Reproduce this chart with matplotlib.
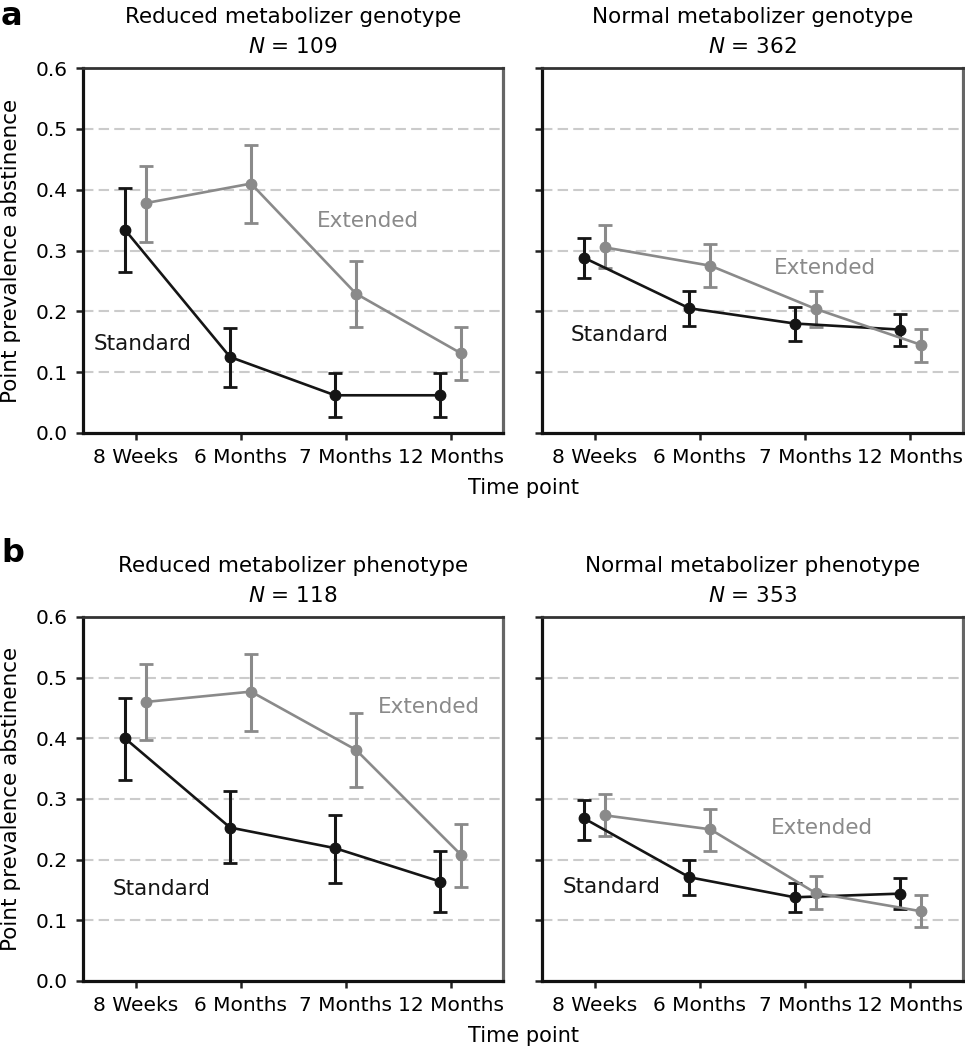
import numpy as np
import matplotlib
matplotlib.use('Agg')
import matplotlib.pyplot as plt

# time points
time_labels = ['8 Weeks', '6 Months', '7 Months', '12 Months']

# panel titles
titles = ['Reduced metabolizer genotype', 'Normal metabolizer genotype',
          'Reduced metabolizer phenotype', 'Normal metabolizer phenotype']
sample_sizes = [109, 362, 118, 353]

# standard treatment: point estimates, lower and upper CI
std_a_red = [0.334, 0.125, 0.062, 0.062]
std_a_red_lo = [0.264, 0.076, 0.026, 0.026]
std_a_red_hi = [0.403, 0.173, 0.098, 0.098]
std_a_nor = [0.288, 0.205, 0.180, 0.170]
std_a_nor_lo = [0.254, 0.176, 0.151, 0.143]
std_a_nor_hi = [0.321, 0.234, 0.207, 0.196]
std_b_red = [0.400, 0.253, 0.219, 0.164]
std_b_red_lo = [0.332, 0.194, 0.161, 0.113]
std_b_red_hi = [0.467, 0.314, 0.274, 0.215]
std_b_nor = [0.268, 0.171, 0.138, 0.144]
std_b_nor_lo = [0.233, 0.142, 0.114, 0.118]
std_b_nor_hi = [0.298, 0.199, 0.162, 0.170]

# extended treatment
ext_a_red = [0.378, 0.410, 0.229, 0.131]
ext_a_red_lo = [0.314, 0.346, 0.175, 0.087]
ext_a_red_hi = [0.439, 0.474, 0.283, 0.175]
ext_a_nor = [0.305, 0.275, 0.204, 0.145]
ext_a_nor_lo = [0.272, 0.240, 0.174, 0.116]
ext_a_nor_hi = [0.342, 0.311, 0.234, 0.171]
ext_b_red = [0.460, 0.477, 0.381, 0.208]
ext_b_red_lo = [0.398, 0.412, 0.319, 0.155]
ext_b_red_hi = [0.522, 0.539, 0.442, 0.258]
ext_b_nor = [0.273, 0.250, 0.145, 0.115]
ext_b_nor_lo = [0.239, 0.215, 0.118, 0.089]
ext_b_nor_hi = [0.308, 0.283, 0.173, 0.141]

# where the series labels sit (data coords)
std_label_pos = [(1.07, 0.146), (1.24, 0.161), (1.25, 0.152), (1.16, 0.155)]
ext_label_pos = [(3.21, 0.349), (3.19, 0.271), (3.79, 0.452), (3.16, 0.252)]

STD_COLOR = '#151515'
EXT_COLOR = '#8a8a8a'

panels = [
    (std_a_red, std_a_red_lo, std_a_red_hi, ext_a_red, ext_a_red_lo, ext_a_red_hi),
    (std_a_nor, std_a_nor_lo, std_a_nor_hi, ext_a_nor, ext_a_nor_lo, ext_a_nor_hi),
    (std_b_red, std_b_red_lo, std_b_red_hi, ext_b_red, ext_b_red_lo, ext_b_red_hi),
    (std_b_nor, std_b_nor_lo, std_b_nor_hi, ext_b_nor, ext_b_nor_lo, ext_b_nor_hi),
]

W, H = 965, 1050
fig = plt.figure(figsize=(W / 100, H / 100), dpi=100)

# axes boxes in pixels: (left, top, right, bottom)
boxes = [(83, 68, 503, 433), (542, 68, 963, 433),
         (83, 617, 503, 981), (542, 617, 963, 981)]


def draw_series(ax, x, y, lo, hi, color):
    y = np.array(y)
    err = [y - np.array(lo), np.array(hi) - y]
    ax.errorbar(x, y, yerr=err, color=color, lw=1.9, marker='o', ms=7.5,
                elinewidth=2.2, capsize=5, capthick=2.0, zorder=3)


x = np.arange(1, 5)
for i, (ax_box, data) in enumerate(zip(boxes, panels)):
    l, t, r, b = ax_box
    ax = fig.add_axes([l / W, 1 - b / H, (r - l) / W, (b - t) / H])
    s, slo, shi, e, elo, ehi = data

    draw_series(ax, x - 0.1, s, slo, shi, STD_COLOR)
    draw_series(ax, x + 0.1, e, elo, ehi, EXT_COLOR)

    ax.set_xlim(0.5, 4.5)
    ax.set_ylim(0, 0.6)
    ax.set_xticks(x)
    ax.set_xticklabels(time_labels, fontsize=14.5)
    ax.set_yticks(np.arange(0, 0.61, 0.1))
    if i % 2 == 0:
        ax.set_yticklabels(['%.1f' % v for v in np.arange(0, 0.61, 0.1)], fontsize=14.5)
    else:
        ax.set_yticklabels([])

    for yv in np.arange(0.1, 0.55, 0.1):
        ax.axhline(yv, color='#cbcbcb', lw=1.5, ls=(0, (5, 2.5)), zorder=1)

    ax.tick_params(axis='both', direction='out', length=5, width=1.8,
                   color='#222222', pad=6)
    ax.spines['left'].set_linewidth(2.3)
    ax.spines['bottom'].set_linewidth(2.3)
    ax.spines['left'].set_color('#111111')
    ax.spines['bottom'].set_color('#111111')
    ax.spines['top'].set_linewidth(2.0)
    ax.spines['top'].set_color('#333333')
    ax.spines['right'].set_linewidth(2.3)
    ax.spines['right'].set_color('#666666')

    sx, sy = std_label_pos[i]
    ex, ey = ext_label_pos[i]
    ax.text(sx, sy, 'Standard', color=STD_COLOR, fontsize=15.5,
            ha='center', va='center')
    ax.text(ex, ey, 'Extended', color=EXT_COLOR, fontsize=15.5,
            ha='center', va='center')

    # two-line title
    hgt = b - t
    ax.text(0.5, 1 + 45 / hgt, titles[i], transform=ax.transAxes,
            ha='center', va='baseline', fontsize=15.5)
    ax.text(0.5, 1 + 15 / hgt, '$N$ = %d' % sample_sizes[i], transform=ax.transAxes,
            ha='center', va='baseline', fontsize=15.5)

# shared labels
for yc, yl in [((68 + 433) / 2, 488), ((617 + 981) / 2, 1036)]:
    fig.text(11 / W, 1 - yc / H, 'Point prevalence abstinence', rotation=90,
             ha='center', va='center', fontsize=15.5)
    fig.text(523 / W, 1 - yl / H, 'Time point', ha='center', va='center',
             fontsize=15)

# panel letters
fig.text(1 / W, 1 - 25 / H, 'a', fontsize=23, fontweight='bold', va='baseline')
fig.text(1 / W, 1 - 562 / H, 'b', fontsize=23, fontweight='bold', va='baseline')

fig.savefig('out.png', dpi=100)
